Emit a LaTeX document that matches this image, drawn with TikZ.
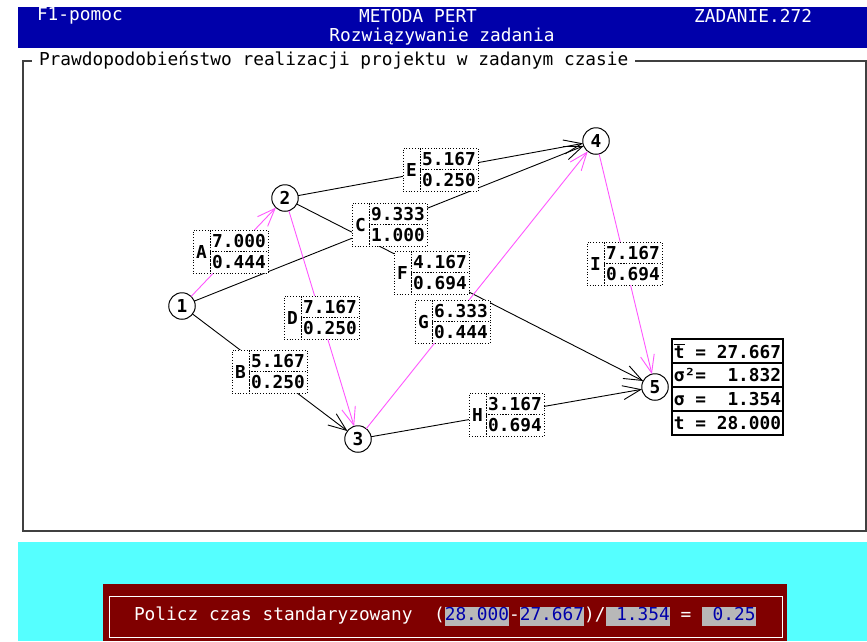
\documentclass[tikz,border=0pt]{standalone}
\usepackage{fontspec}
\setmonofont{DejaVu Sans Mono}
\usepackage{tikz}
\usetikzlibrary{positioning}
\usetikzlibrary{arrows.meta}
\usepackage{xcolor}
\definecolor{dosblue}{HTML}{0000AA}
\definecolor{doscyan}{HTML}{55FFFF}
\definecolor{dosred}{HTML}{800000}
\definecolor{dosmag}{HTML}{FF55FF}
\definecolor{dosgray}{HTML}{B8B8B8}
\definecolor{framegray}{HTML}{404040}
\newcommand{\dosfont}{\ttfamily\fontsize{17.8}{20}\selectfont}
\newcommand{\blank}{\hphantom{0}}

\begin{document}
\begin{tikzpicture}[x=1pt,y=-1pt,
  every node/.style={font=\dosfont,outer sep=0pt},
  event/.style={draw,circle,fill=white,line width=1pt,minimum size=26.5pt,inner sep=0pt,font=\dosfont\bfseries},
  act/.style={line width=0.9pt,-{Straight Barb[length=18pt,width=14pt]}},
  crit/.style={dosmag},
  val/.style={draw,dotted,line width=0.8pt,fill=white,minimum width=58pt,minimum height=21.5pt,inner sep=0pt,font=\dosfont\bfseries},
  lett/.style={draw,dotted,line width=0.8pt,fill=white,minimum width=17pt,minimum height=43pt,inner sep=0pt,font=\dosfont\bfseries},
  stat/.style={draw,line width=1.3pt,fill=white,minimum width=111pt,minimum height=24pt,inner sep=0pt,font=\dosfont\bfseries},
  hdr/.style={white,inner sep=0pt},
  bar/.style={white,inner sep=0pt,text height=14pt,text depth=5pt},
  hl/.style={bar,fill=dosgray,text=dosblue}]
  \useasboundingbox (0,0) rectangle (867,641);

  \fill[dosblue] (18,7) rectangle (867,48);
  \node[hdr,anchor=west] (help) at (37,16) {F1-pomoc};
  \node[hdr] (method) at (418,16) {METODA PERT};
  \node[hdr,anchor=east] (task) at (812,16) {ZADANIE.272};
  \node[hdr] (sub) at (442,37) {Rozwiązywanie zadania};

  \draw[framegray,line width=1.5pt] (23,61) rectangle (866,531);
  \node[fill=white,inner xsep=7pt,inner ysep=1pt,anchor=west] (title) at (32,60) {Prawdopodobieństwo realizacji projektu w zadanym czasie};

  \node[event] (n1) at (182,306) {1};
  \node[event] (n2) at (285,198) {2};
  \node[event] (n3) at (358,439) {3};
  \node[event] (n4) at (596,141) {4};
  \node[event] (n5) at (655,387) {5};

  \draw[act,crit] (n1)--(n2);
  \draw[act] (n1)--(n3);
  \draw[act] (n1)--(n4);
  \draw[act,crit] (n2)--(n3);
  \draw[act] (n2)--(n4);
  \draw[act] (n2)--(n5);
  \draw[act,crit] (n3)--(n4);
  \draw[act] (n3)--(n5);
  \draw[act,crit] (n4)--(n5);

  \node[val] (A1) at (239,241) {7.000};
  \node[val,below=0pt of A1] (A2) {0.444};
  \node[lett,left=0pt of A1.south west] (A) {A};
  \node[val] (B1) at (278,361) {5.167};
  \node[val,below=0pt of B1] (B2) {0.250};
  \node[lett,left=0pt of B1.south west] (B) {B};
  \node[val] (C1) at (398,214) {9.333};
  \node[val,below=0pt of C1] (C2) {1.000};
  \node[lett,left=0pt of C1.south west] (C) {C};
  \node[val] (D1) at (330,307) {7.167};
  \node[val,below=0pt of D1] (D2) {0.250};
  \node[lett,left=0pt of D1.south west] (D) {D};
  \node[val] (E1) at (449,159) {5.167};
  \node[val,below=0pt of E1] (E2) {0.250};
  \node[lett,left=0pt of E1.south west] (E) {E};
  \node[val] (F1) at (440,262) {4.167};
  \node[val,below=0pt of F1] (F2) {0.694};
  \node[lett,left=0pt of F1.south west] (F) {F};
  \node[val] (G1) at (461,311) {6.333};
  \node[val,below=0pt of G1] (G2) {0.444};
  \node[lett,left=0pt of G1.south west] (G) {G};
  \node[val] (H1) at (515,404) {3.167};
  \node[val,below=0pt of H1] (H2) {0.694};
  \node[lett,left=0pt of H1.south west] (H) {H};
  \node[val] (I1) at (633,253) {7.167};
  \node[val,below=0pt of I1] (I2) {0.694};
  \node[lett,left=0pt of I1.south west] (I) {I};

  \node[stat] (tmean) at (727.5,351) {$\overline{\hbox{t}}$\blank=\blank27.667};
  \node[stat,below=0pt of tmean] (var) {σ²=\blank\blank1.832};
  \node[stat,below=0pt of var] (sd) {σ\blank=\blank\blank1.354};
  \node[stat,below=0pt of sd] (tgiven) {t\blank=\blank28.000};

  \fill[doscyan] (18,542) rectangle (867,641);
  \fill[dosred] (103,584) rectangle (787,641);
  \draw[white,line width=1pt] (109,596) rectangle (782,637);
  \node[bar,anchor=west] (p0) at (134,616) {Policz\blank czas\blank standaryzowany\blank\blank(};
  \node[hl,right=0pt of p0] (p1) {28.000};
  \node[bar,right=0pt of p1] (p2) {-};
  \node[hl,right=0pt of p2] (p3) {27.667};
  \node[bar,right=0pt of p3] (p4) {)/};
  \node[hl,right=0pt of p4] (p5) {\blank1.354};
  \node[bar,right=0pt of p5] (p6) {\blank=\blank};
  \node[hl,right=0pt of p6] (p7) {\blank0.25};
\end{tikzpicture}
\end{document}
